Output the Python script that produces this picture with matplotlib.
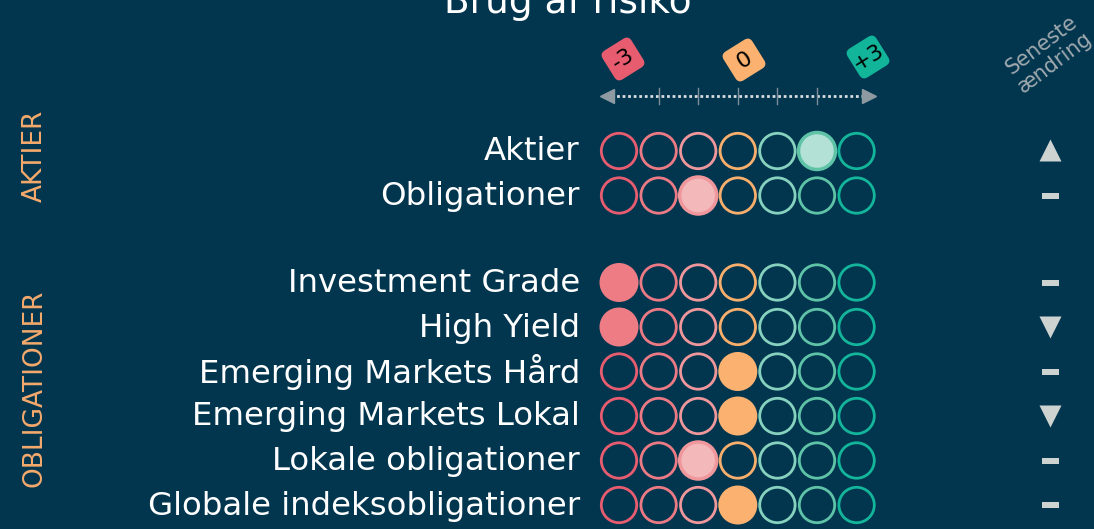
import matplotlib.pyplot as plt
import matplotlib.patches as mpatches
import matplotlib.transforms as mtransforms
import numpy as np

# data
labels = ["Aktier", "Obligationer",
          "Investment Grade", "High Yield", "Emerging Markets Hård",
          "Emerging Markets Lokal", "Lokale obligationer", "Globale indeksobligationer"]
groups = ["AKTIER", "AKTIER",
          "OBLIGATIONER", "OBLIGATIONER", "OBLIGATIONER",
          "OBLIGATIONER", "OBLIGATIONER", "OBLIGATIONER"]
scores = [2, -1, -3, -3, 0, 0, -1, 0]
light_fill = [True, True, False, False, False, False, True, False]
changes = ["up", "none", "none", "down", "none", "down", "none", "none"]
scale = [-3, -2, -1, 0, 1, 2, 3]
scale_labels = {-3: "-3", 0: "0", 3: "+3"}

bg = "#02364F"
ring_cols = ["#E85C70", "#EC7A84", "#F0979C", "#F9AF6C", "#86D2BF", "#5FC3A8", "#13B59B"]
fill_cols = ["#EE7C85", "#EE7C85", "#F3B9BA", "#FBB270", "#B3E1D6", "#B3E1D6", "#13B59B"]
badge_cols = {-3: "#E85C70", 0: "#FBB270", 3: "#12B49A"}

fig = plt.figure(figsize=(10.94, 5.29), dpi=100)
fig.patch.set_facecolor(bg)
ax = fig.add_axes([0, 0, 1, 1])
ax.set_xlim(0, 1094)
ax.set_ylim(529, 0)
ax.axis("off")
ax.set_facecolor(bg)

font = "DejaVu Sans"

# layout
x0, dx = 619, 39.6
r = 18.5
row_y = []
y = 151
for i in range(len(labels)):
    if i > 0:
        y += 44.5 if groups[i] == groups[i - 1] else 87
    row_y.append(y)

def col_x(v):
    return x0 + (v + 3) * dx

ax.text(568, 13, "Brug af risiko", color="white", fontsize=27, ha="center",
        va="baseline", family=font)

# header badges
badge_pos = {-3: (623, 59), 0: (744, 60), 3: (868, 57)}
for v, txt in scale_labels.items():
    cx, cy = badge_pos[v]
    sq = mpatches.FancyBboxPatch((-17, -17), 34, 34,
                                 boxstyle="round,pad=0,rounding_size=6",
                                 fc=badge_cols[v], ec="none")
    tr = mtransforms.Affine2D().rotate_deg(-32).translate(cx, cy) + ax.transData
    sq.set_transform(tr)
    ax.add_patch(sq)
    ax.text(cx, cy, txt, color="black", fontsize=16, ha="center", va="center",
            rotation=32, rotation_mode="anchor", family=font)

# scale axis
ax.plot([col_x(-3) - 8, col_x(3) + 8], [96, 96], color="#D8DDE0", lw=2,
        linestyle=(0, (1, 1)), solid_capstyle="butt")
for v in scale[1:-1]:
    ax.plot([col_x(v), col_x(v)], [88, 104], color="#7E8E99", lw=1)
ax.plot([col_x(-3) - 12], [96], marker="<", color="#8E9AA2", ms=10)
ax.plot([col_x(3) + 12], [96], marker=">", color="#8E9AA2", ms=10)

ax.text(1048, 54, "Seneste\nændring", color="#9FA8AE", fontsize=15,
        ha="center", va="center", rotation=37, linespacing=1.1, family=font)

# rows
for i, lab in enumerate(labels):
    yy = row_y[i]
    ax.text(580, yy + 1, lab, color="white", fontsize=23.3, ha="right", va="center",
            family=font)
    for j, v in enumerate(scale):
        if v == scores[i]:
            if light_fill[i]:
                c = mpatches.Circle((col_x(v), yy), r, fc=fill_cols[j],
                                    ec=ring_cols[j], lw=2.5)
            else:
                c = mpatches.Circle((col_x(v), yy), r + 1, fc=fill_cols[j], ec="none")
        else:
            c = mpatches.Circle((col_x(v), yy), r - 0.8, fc="none",
                                ec=ring_cols[j], lw=2)
        ax.add_patch(c)
    ch = changes[i]
    if ch == "up":
        ax.plot(1050, yy - 1, marker="^", color="#CDD3D1", ms=16, mec="none")
    elif ch == "down":
        ax.plot(1050, yy, marker="v", color="#CDD3D1", ms=16, mec="none")
    else:
        ax.add_patch(mpatches.Rectangle((1042, yy - 3), 17, 6, fc="#CDD3D1", ec="none"))

# group labels
for g in ["AKTIER", "OBLIGATIONER"]:
    yc = 156 if g == "AKTIER" else 388
    ax.text(35, yc, g, color="#F5AA6C", fontsize=19, rotation=90,
            ha="center", va="center", family=font)

fig.savefig("out.png", dpi=100, facecolor=bg)
